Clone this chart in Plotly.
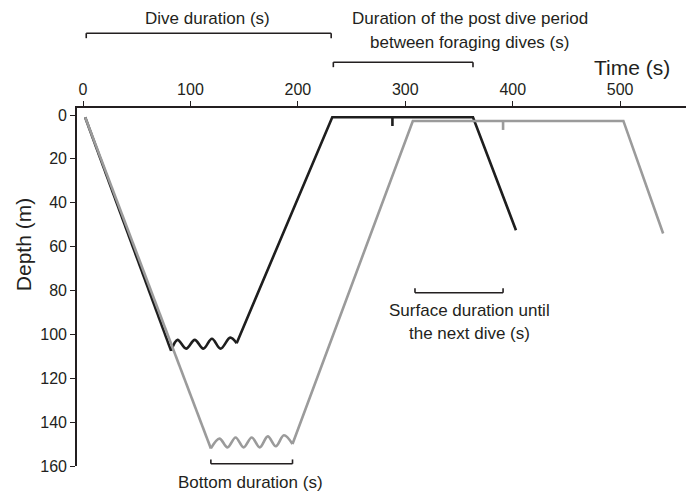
import plotly.graph_objects as go

# ---- data (time in s, depth in m) ----
black_desc_time = [2, 82]
black_desc_depth = [1, 107.5]
black_bottom_time = [82, 88, 96, 104, 112, 120, 128, 137, 143]
black_bottom_depth = [107.5, 102.5, 106.5, 102.5, 106.5, 102, 106.5, 101.5, 104]
black_post_time = [143, 232, 363, 403]
black_post_depth = [104, 1, 1, 52.5]
black_mark_time = [288, 288]
black_mark_depth = [1, 5]

gray_desc_time = [2, 119]
gray_desc_depth = [1, 152]
gray_bottom_time = [119, 127, 134.5, 142, 149.5, 157, 164.5, 172, 179.5, 187, 195]
gray_bottom_depth = [152, 147.5, 151.5, 147, 151.5, 147, 151.5, 146.5, 151, 146, 150]
gray_post_time = [195, 307, 503, 540]
gray_post_depth = [150, 2.7, 2.7, 54]
gray_mark_time = [391, 391]
gray_mark_depth = [2.7, 6.8]

x_ticks = [0, 100, 200, 300, 400, 500]
y_ticks = [0, 20, 40, 60, 80, 100, 120, 140, 160]

dive_bracket = [3, 231]
post_bracket = [233, 363]
surface_bracket = [309, 391]
bottom_bracket = [119, 195]

BLACK = "#1e1e1e"
GRAY = "#9b9b9b"
INK = "#231f20"
FONT = "Liberation Sans, Arial, sans-serif"
LW = 2.6

fig = go.Figure()

def add(t, d, color, shape="linear"):
    fig.add_trace(go.Scatter(x=t, y=d, mode="lines",
                             line=dict(color=color, width=LW, shape=shape, smoothing=1.0),
                             hoverinfo="skip", showlegend=False))

add(black_desc_time, black_desc_depth, BLACK)
add(black_bottom_time, black_bottom_depth, BLACK, "spline")
add(black_post_time, black_post_depth, BLACK)
add(black_mark_time, black_mark_depth, BLACK)
add(gray_desc_time, gray_desc_depth, GRAY)
add(gray_bottom_time, gray_bottom_depth, GRAY, "spline")
add(gray_post_time, gray_post_depth, GRAY)
add(gray_mark_time, gray_mark_depth, GRAY)

shapes = []
def bracket(xr, y0, y1, yref):
    a, b = xr
    for s in [dict(x0=a, x1=b, y0=y0, y1=y0), dict(x0=a, x1=a, y0=y0, y1=y1),
              dict(x0=b, x1=b, y0=y0, y1=y1)]:
        s.update(type="line", xref="x", yref=yref, line=dict(color=INK, width=1.6))
        shapes.append(s)

bracket(dive_bracket, 1.209, 1.195, "paper")
bracket(post_bracket, 1.128, 1.114, "paper")
bracket(surface_bracket, 81, 79, "y")
bracket(bottom_bracket, 159, 157, "y")

ann_font = dict(family=FONT, size=17, color=INK)
annotations = [
    dict(text="Dive duration (s)", x=116, y=1.249, xref="x", yref="paper"),
    dict(text="Duration of the post dive period", x=360, y=1.249, xref="x", yref="paper"),
    dict(text="between foraging dives (s)", x=360, y=1.184, xref="x", yref="paper"),
    dict(text="Time (s)", x=511, y=1.112, xref="x", yref="paper",
         font=dict(family=FONT, size=21, color=INK)),
    dict(text="Surface duration until", x=360, y=89, xref="x", yref="y"),
    dict(text="the next dive (s)", x=360, y=99.5, xref="x", yref="y"),
    dict(text="Bottom duration (s)", x=156, y=-0.045, xref="x", yref="paper"),
    dict(text="Depth (m)", x=-0.088, y=0.617, xref="paper", yref="paper", textangle=-90,
         font=dict(family=FONT, size=21, color=INK)),
]
for a in annotations:
    a.setdefault("font", ann_font)
    a.update(showarrow=False, xanchor="center", yanchor="middle")

# page body has an 8px margin, so the figure is 8px smaller and shifted
fig.update_layout(
    width=686, height=483,
    margin=dict(l=69, r=4, t=100, b=25),
    paper_bgcolor="white", plot_bgcolor="white",
    shapes=shapes, annotations=annotations,
    font=dict(family=FONT, color=INK),
    xaxis=dict(side="top", range=[-5.6, 565], tickvals=x_ticks, ticks="outside",
               ticklen=5, tickwidth=1.3, tickcolor=INK, showline=True, linewidth=1.6,
               linecolor=INK, showgrid=False, zeroline=False,
               tickfont=dict(family=FONT, size=16, color=INK)),
    yaxis=dict(range=[160, -3.2], tickvals=y_ticks, ticks="outside",
               ticklen=5, tickwidth=1.3, tickcolor=INK, showline=True, linewidth=1.6,
               linecolor=INK, showgrid=False, zeroline=False,
               tickfont=dict(family=FONT, size=16, color=INK)),
)

fig.write_html("out.html")
